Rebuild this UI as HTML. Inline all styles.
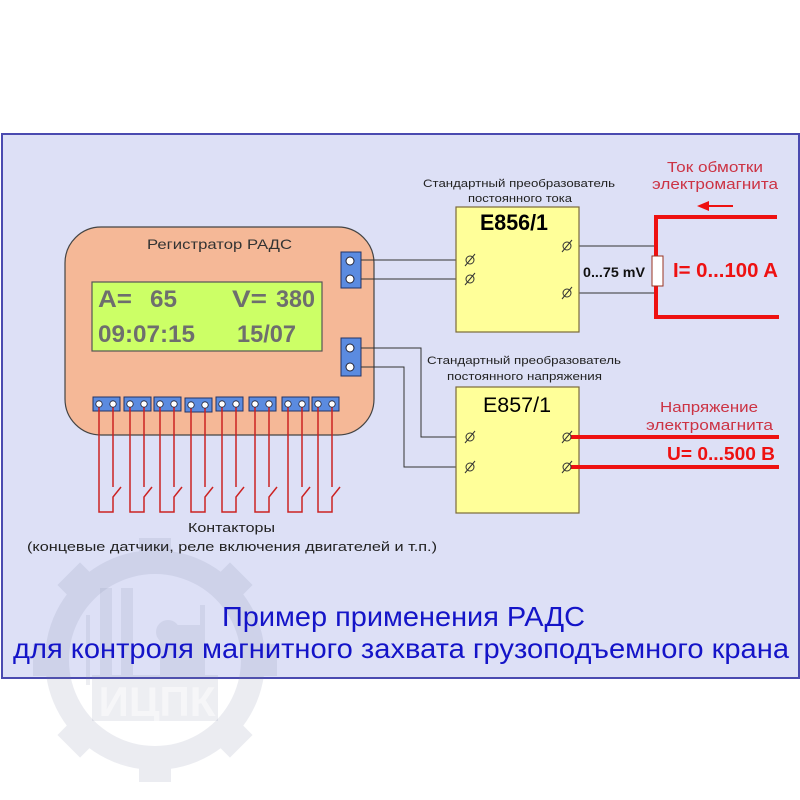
<!DOCTYPE html>
<html><head><meta charset="utf-8"><style>
html,body{margin:0;padding:0;background:#fff;}
svg{display:block;}
text{font-family:"Liberation Sans","Noto Sans CJK SC",sans-serif;}
</style></head><body>
<svg width="800" height="800" viewBox="0 0 800 800" xmlns="http://www.w3.org/2000/svg">
<rect x="0" y="0" width="800" height="800" fill="#ffffff"/>
<!-- frame -->
<rect x="2" y="134" width="797" height="544" fill="#dde0f6" stroke="#4a4ab0" stroke-width="2"/>

<!-- watermark gear -->
<g fill="#7880a0" opacity="0.14">
  <path fill-rule="evenodd" d="M155,550 a110,110 0 1,0 0.1,0 Z M155,574 a86,86 0 1,1 -0.1,0 Z"/>
  <g transform="translate(155,660)">
    <rect x="-16" y="-122" width="32" height="16"/>
    <rect x="-16" y="-122" width="32" height="16" transform="rotate(45)"/>
    <rect x="-16" y="-122" width="32" height="16" transform="rotate(90)"/>
    <rect x="-16" y="-122" width="32" height="16" transform="rotate(135)"/>
    <rect x="-16" y="-122" width="32" height="16" transform="rotate(180)"/>
    <rect x="-16" y="-122" width="32" height="16" transform="rotate(225)"/>
    <rect x="-16" y="-122" width="32" height="16" transform="rotate(270)"/>
    <rect x="-16" y="-122" width="32" height="16" transform="rotate(315)"/>
  </g>
</g>
<g fill="#7880a0" opacity="0.13">
  <rect x="100" y="588" width="12" height="100"/>
  <rect x="121" y="588" width="12" height="100"/>
  <rect x="86" y="615" width="4" height="70"/>
  <rect x="160" y="625" width="40" height="60"/>
  <circle cx="168" cy="632" r="12"/>
  <rect x="200" y="605" width="5" height="80"/>
  <rect x="92" y="675" width="126" height="46"/>
</g>
<text x="157" y="716" font-size="42" font-weight="bold" fill="#ffffff" opacity="0.5" text-anchor="middle">ИЦПК</text>

<!-- Registrator -->
<rect x="65" y="227" width="309" height="208" rx="36" ry="36" fill="#f5b897" stroke="#444" stroke-width="1.2"/>
<text x="147" y="249" font-size="14" fill="#333" textLength="145" lengthAdjust="spacingAndGlyphs">Регистратор  РАДС</text>
<rect x="92" y="282" width="230" height="69" fill="#ccff66" stroke="#555" stroke-width="1.2"/>
<g font-size="24" font-weight="bold" fill="#6e6e6e">
<text x="98" y="307" textLength="34" lengthAdjust="spacingAndGlyphs">A=</text>
<text x="150" y="307" textLength="27" lengthAdjust="spacingAndGlyphs">65</text>
<text x="232" y="307" textLength="35" lengthAdjust="spacingAndGlyphs">V=</text>
<text x="276" y="307" textLength="39" lengthAdjust="spacingAndGlyphs">380</text>
<text x="98" y="342" textLength="97" lengthAdjust="spacingAndGlyphs">09:07:15</text>
<text x="237" y="342" textLength="59" lengthAdjust="spacingAndGlyphs">15/07</text>
</g>

<!-- right connectors -->
<g stroke="#223366" stroke-width="1">
<rect x="341" y="252" width="20" height="36" fill="#5b8be0"/>
<rect x="341" y="338" width="20" height="38" fill="#5b8be0"/>
</g>
<g fill="#fff" stroke="#223" stroke-width="1">
<circle cx="350" cy="261" r="4"/><circle cx="350" cy="279" r="4"/>
<circle cx="350" cy="348" r="4"/><circle cx="350" cy="367" r="4"/>
</g>

<!-- connecting wires -->
<g stroke="#333" stroke-width="1" fill="none">
<path d="M361,260 H466"/>
<path d="M361,279 H466"/>
<path d="M361,348 H421 V437 H466"/>
<path d="M361,367 H404 V467 H466"/>
<path d="M571,246 H656"/>
<path d="M571,293 H656"/>
</g>

<!-- E856/1 -->
<text x="423" y="187" font-size="11" fill="#222" textLength="192" lengthAdjust="spacingAndGlyphs">Стандартный преобразователь</text>
<text x="468" y="202" font-size="11" fill="#222" textLength="104" lengthAdjust="spacingAndGlyphs">постоянного тока</text>
<rect x="456" y="207" width="123" height="125" fill="#ffff99" stroke="#7a6a3a" stroke-width="1.2"/>
<text x="480" y="230" font-size="22" font-weight="bold" fill="#000" textLength="68" lengthAdjust="spacingAndGlyphs">E856/1</text>

<!-- E857/1 -->
<text x="427" y="364" font-size="11" fill="#222" textLength="194" lengthAdjust="spacingAndGlyphs">Стандартный преобразователь</text>
<text x="447" y="380" font-size="11" fill="#222" textLength="155" lengthAdjust="spacingAndGlyphs">постоянного напряжения</text>
<rect x="456" y="387" width="123" height="126" fill="#ffff99" stroke="#7a6a3a" stroke-width="1.2"/>
<text x="483" y="412" font-size="21" fill="#000" textLength="68" lengthAdjust="spacingAndGlyphs">E857/1</text>

<!-- red heavy lines -->
<g stroke="#ee1111" stroke-width="4" fill="none">
<path d="M777,217 H656 V317 H779"/>
<path d="M571,437 H779"/>
<path d="M571,467 H779"/>
</g>

<!-- terminal symbols -->
<g fill="none" stroke="#333" stroke-width="1">
<circle cx="470" cy="260" r="4"/><path d="M465,266 L475,254"/>
<circle cx="470" cy="279" r="4"/><path d="M465,285 L475,273"/>
<circle cx="567" cy="246" r="4"/><path d="M562,252 L572,240"/>
<circle cx="567" cy="293" r="4"/><path d="M562,299 L572,287"/>
<circle cx="470" cy="437" r="4"/><path d="M465,443 L475,431"/>
<circle cx="470" cy="467" r="4"/><path d="M465,473 L475,461"/>
<circle cx="567" cy="437" r="4"/><path d="M562,443 L572,431"/>
<circle cx="567" cy="467" r="4"/><path d="M562,473 L572,461"/>
</g>

<!-- resistor -->
<rect x="652" y="256" width="11" height="30" fill="#fff" stroke="#993322" stroke-width="1"/>
<text x="583" y="277" font-size="14" font-weight="bold" fill="#111" textLength="62" lengthAdjust="spacingAndGlyphs">0...75 mV</text>

<!-- arrow -->
<path d="M733,206 H705" stroke="#ee1111" stroke-width="2"/>
<path d="M697,206 L709,201 L709,211 Z" fill="#ee1111"/>

<!-- red labels -->
<g font-size="15" fill="#cc3344">
<text x="667" y="172" textLength="96" lengthAdjust="spacingAndGlyphs">Ток обмотки</text>
<text x="652" y="189" textLength="126" lengthAdjust="spacingAndGlyphs">электромагнита</text>
<text x="660" y="412" textLength="98" lengthAdjust="spacingAndGlyphs">Напряжение</text>
<text x="646" y="430" textLength="127" lengthAdjust="spacingAndGlyphs">электромагнита</text>
</g>
<text x="673" y="277" font-size="20" font-weight="bold" fill="#ee1111" textLength="105" lengthAdjust="spacingAndGlyphs">I= 0...100 A</text>
<text x="667" y="460" font-size="18" font-weight="bold" fill="#ee1111" textLength="108" lengthAdjust="spacingAndGlyphs">U= 0...500 В</text>

<!-- bottom terminal blocks and contactors -->
<g>
<g stroke="#223366" stroke-width="1" fill="#5b8be0">
<rect x="93" y="397" width="27" height="14"/>
<rect x="124" y="397" width="27" height="14"/>
<rect x="154" y="397" width="27" height="14"/>
<rect x="185" y="398" width="27" height="14"/>
<rect x="216" y="397" width="27" height="14"/>
<rect x="249" y="397" width="27" height="14"/>
<rect x="282" y="397" width="27" height="14"/>
<rect x="312" y="397" width="27" height="14"/>
</g>
<g stroke="#cc2222" stroke-width="1.5" fill="none">
<path d="M99,404 V512 H113 V497 L121,487 M113,404 V487"/>
<path d="M130,404 V512 H144 V497 L152,487 M144,404 V487"/>
<path d="M160,404 V512 H174 V497 L182,487 M174,404 V487"/>
<path d="M191,405 V512 H205 V497 L213,487 M205,405 V487"/>
<path d="M222,404 V512 H236 V497 L244,487 M236,404 V487"/>
<path d="M255,404 V512 H269 V497 L277,487 M269,404 V487"/>
<path d="M288,404 V512 H302 V497 L310,487 M302,404 V487"/>
<path d="M318,404 V512 H332 V497 L340,487 M332,404 V487"/>
</g>
<g fill="#fff" stroke="#223" stroke-width="0.8">
<circle cx="99" cy="404" r="3.2"/><circle cx="113" cy="404" r="3.2"/>
<circle cx="130" cy="404" r="3.2"/><circle cx="144" cy="404" r="3.2"/>
<circle cx="160" cy="404" r="3.2"/><circle cx="174" cy="404" r="3.2"/>
<circle cx="191" cy="405" r="3.2"/><circle cx="205" cy="405" r="3.2"/>
<circle cx="222" cy="404" r="3.2"/><circle cx="236" cy="404" r="3.2"/>
<circle cx="255" cy="404" r="3.2"/><circle cx="269" cy="404" r="3.2"/>
<circle cx="288" cy="404" r="3.2"/><circle cx="302" cy="404" r="3.2"/>
<circle cx="318" cy="404" r="3.2"/><circle cx="332" cy="404" r="3.2"/>
</g>
</g>

<text x="188" y="532" font-size="13" fill="#222" textLength="87" lengthAdjust="spacingAndGlyphs">Контакторы</text>
<text x="27" y="551" font-size="13" fill="#222" textLength="410" lengthAdjust="spacingAndGlyphs">(концевые датчики, реле включения двигателей и т.п.)</text>

<!-- title -->
<text x="222" y="626" font-size="28" fill="#1414c8" textLength="363" lengthAdjust="spacingAndGlyphs">Пример применения РАДС</text>
<text x="13" y="658" font-size="28" fill="#1414c8" textLength="776" lengthAdjust="spacingAndGlyphs">для контроля магнитного захвата грузоподъемного крана</text>
</svg>
</body></html>
